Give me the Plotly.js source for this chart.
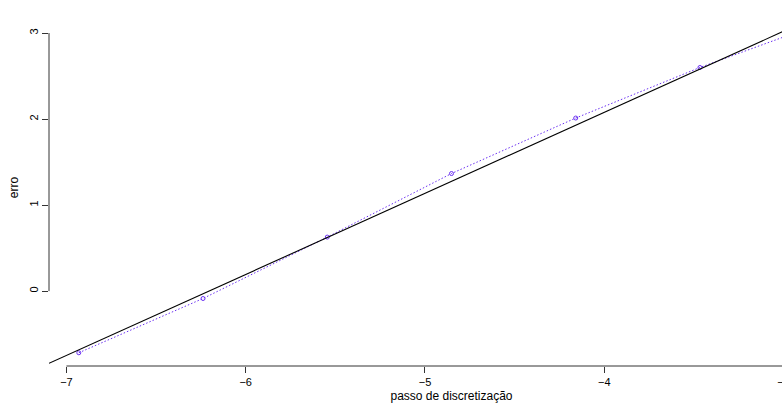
<!DOCTYPE html>
<html>
<head>
<meta charset="utf-8">
<script src="https://cdn.plot.ly/plotly-3.0.1.min.js"></script>
<style>
  html, body { margin: 0; padding: 0; overflow: hidden; background: #fff; }
  #chart { width: 880px; height: 404px; }
</style>
</head>
<body>
<div id="chart"></div>
<script>
// log of the discretisation step h = 2^-10 ... 2^-4
const logPasso = [-6.931, -6.238, -5.545, -4.852, -4.159, -3.466, -2.773];
// log of the error measured at each step
const logErro = [-0.717, -0.086, 0.628, 1.367, 2.012, 2.600, 3.126];

const xTicks = [-7, -6, -5, -4, -3];
const yTicks = [0, 1, 2, 3];

// least-squares line through the points
function fitLine(x, y) {
  const n = x.length;
  const mx = x.reduce((a, b) => a + b, 0) / n;
  const my = y.reduce((a, b) => a + b, 0) / n;
  let sxy = 0, sxx = 0;
  for (let i = 0; i < n; i++) {
    sxy += (x[i] - mx) * (y[i] - my);
    sxx += (x[i] - mx) * (x[i] - mx);
  }
  const b = sxy / sxx;
  return { a: my - b * mx, b: b };
}

// axis limits padded by 4% like R's default
function padRange(v) {
  const lo = Math.min(...v), hi = Math.max(...v), d = (hi - lo) * 0.04;
  return [lo - d, hi + d];
}

const xr = padRange(logPasso);
const yr = padRange(logErro);
const fit = fitLine(logPasso, logErro);

const pointColor = '#6a30f2';

const traces = [
  {
    x: logPasso, y: logErro,
    type: 'scatter', mode: 'lines+markers',
    line: { color: pointColor, width: 1, dash: '1.5px,2px' },
    marker: { symbol: 'circle-open', size: 4, color: pointColor, line: { width: 1, color: pointColor } },
    cliponaxis: true, hoverinfo: 'skip'
  },
  {
    x: xr, y: xr.map(v => fit.a + fit.b * v),
    type: 'scatter', mode: 'lines',
    line: { color: '#000', width: 1.1 },
    hoverinfo: 'skip'
  }
];

const font = { family: 'Liberation Sans, Arial, sans-serif', color: '#000' };

const layout = {
  width: 880, height: 404,
  margin: { l: 49, r: 26, t: 9, b: 38 },
  paper_bgcolor: '#fff', plot_bgcolor: '#fff',
  showlegend: false,
  font: font,
  xaxis: {
    range: xr, tickvals: xTicks, ticktext: xTicks.map(v => '\u2212' + Math.abs(v)),
    ticks: 'outside', ticklen: 6, tickcolor: '#333', tickwidth: 1,
    showgrid: false, zeroline: false, showline: false,
    tickfont: { size: 11 },
    title: { text: 'passo de discretização', font: { size: 12 }, standoff: 4 },
    automargin: false
  },
  yaxis: {
    range: yr, tickvals: yTicks, ticktext: yTicks.map(String),
    ticks: 'outside', ticklen: 6, tickcolor: '#333', tickwidth: 1,
    tickangle: -90,
    showgrid: false, zeroline: false, showline: false,
    tickfont: { size: 11 },
    title: { text: 'erro', font: { size: 12 }, standoff: 6 },
    automargin: false
  },
  shapes: [
    { type: 'line', xref: 'x', yref: 'paper', x0: xTicks[0], x1: xTicks[xTicks.length - 1], y0: 0, y1: 0,
      line: { color: '#333', width: 1 } },
    { type: 'line', xref: 'paper', yref: 'y', x0: 0, x1: 0, y0: yTicks[0], y1: yTicks[yTicks.length - 1],
      line: { color: '#333', width: 1 } }
  ]
};

Plotly.newPlot('chart', traces, layout, { staticPlot: true, displayModeBar: false });
</script>
</body>
</html>
